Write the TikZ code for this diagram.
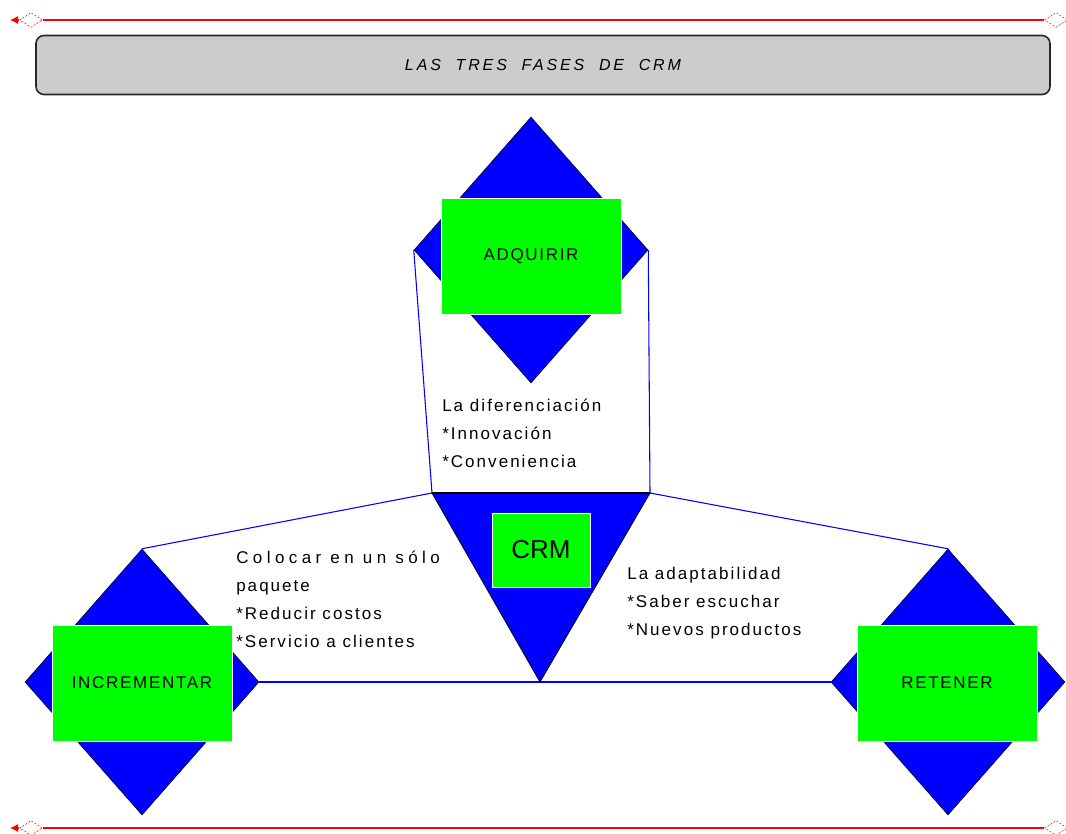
\documentclass[tikz,border=0pt]{standalone}
\usepackage{fontspec}
\setmainfont{Liberation Sans}
\newfontfamily\crmfont[LetterSpace=10]{Liberation Sans}
\newfontfamily\notefont[LetterSpace=12]{Liberation Sans}
\newfontfamily\titlefont[LetterSpace=18]{Liberation Sans}
\usetikzlibrary{shapes.geometric,arrows.meta}
\definecolor{crmblue}{RGB}{0,0,255}
\definecolor{crmgreen}{RGB}{0,255,0}
\definecolor{crmgray}{RGB}{204,204,204}

\begin{document}
\begin{tikzpicture}
        [x=0.75pt,y=-0.75pt,
         rombo/.style={draw=black,shape=diamond,fill=crmblue,inner sep=0,minimum width=175.5pt,minimum height=199.5pt},
         caja/.style={draw=white,fill=crmgreen,inner sep=0,minimum width=135pt,minimum height=87pt,font=\crmfont\fontsize{12.75pt}{15pt}\selectfont},
         nota/.style={inner sep=0,anchor=north west,align=left,font=\notefont\fontsize{12.75pt}{20.8pt}\selectfont},
         marca/.style={draw=red,dash pattern=on 1.5pt off 1.2pt,shape=diamond,inner sep=0,minimum width=17pt,minimum height=11pt},
         linea/.style={draw=crmblue,line width=0.8pt},
         rojo/.style={draw=red,line width=0.8pt}]

        \useasboundingbox (0,0) rectangle (1066,833);

        % red rules
        \node[marca] (tl) at (31,20) {};
        \node[marca] (tr) at (1056,20) {};
        \node[marca] (bl) at (31,828) {};
        \node[marca] (br) at (1056,828) {};
        \coordinate (tlend) at (10,20);
        \coordinate (blend) at (10,828);
        \draw[rojo] (tl) -- (tr);
        \draw[rojo] (bl) -- (br);
        \draw[rojo,-{Latex[length=6pt,width=6pt]}] (tl.west) -- (tlend);
        \draw[rojo,-{Latex[length=6pt,width=6pt]}] (bl.west) -- (blend);

        % title
        \node[draw=black!85,line width=1.2pt,fill=crmgray,rounded corners=6pt,minimum width=760.5pt,minimum height=44.25pt,
          font=\titlefont\itshape\fontsize{12pt}{14pt}\selectfont] (title) at (543,65) {LAS\ \ TRES\ \ FASES\ \ DE\ \ CRM};

        % diamonds and triangle
        \node[rombo] (dadq) at (531,250) {};
        \node[rombo] (dinc) at (142,682) {};
        \node[rombo] (dret) at (948,682) {};
        \coordinate (crmL) at (432,493);
        \coordinate (crmR) at (650,493);
        \coordinate (crmB) at (540,682);

        \draw[linea] (dadq.west) -- (crmL);
        \draw[linea] (dadq.east) -- (crmR);
        \draw[linea] (crmL) -- (dinc.north);
        \draw[linea] (crmR) -- (dret.north);
        \draw[linea] (dinc.east) -- (dret.west);

        \draw[fill=crmblue,draw=black,line width=0.6pt] (crmL) -- (crmR) -- (crmB) -- cycle;
        \draw[line width=1.5pt] (crmL) -- (crmR);

        % phases
        \node[caja] (adq) at (531,256) {ADQUIRIR};
        \node[caja] (inc) at (142,683) {INCREMENTAR};
        \node[caja] (ret) at (947,683) {RETENER};
        \node[caja,minimum width=73.5pt,minimum height=55.5pt,font=\fontsize{19.5pt}{22pt}\selectfont] (crm) at (541,550) {CRM};

        % notes
        \node[nota] (n1) at (442,399) {La diferenciación\\*Innovación\\*Conveniencia};
        \node[nota] (n2) at (236,551) {{\addfontfeature{LetterSpace=26}Colocar en un sólo}\\paquete\\*Reducir costos\\*Servicio a clientes};
        \node[nota] (n3) at (627,567) {La adaptabilidad\\*Saber escuchar\\*Nuevos productos};

      \end{tikzpicture}
\end{document}
